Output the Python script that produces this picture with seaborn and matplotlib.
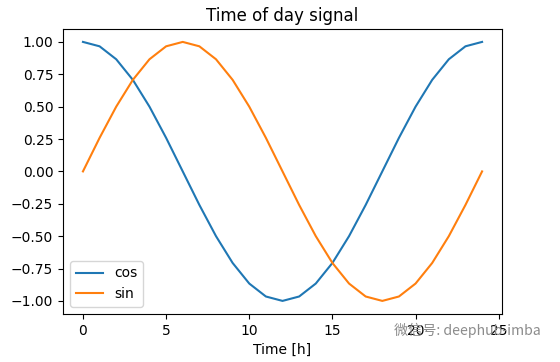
import matplotlib
matplotlib.use("Agg")
import matplotlib.pyplot as plt
import seaborn as sns
import pandas as pd

hours = list(range(25))
cos_vals = [1.000, 0.966, 0.866, 0.707, 0.500, 0.259, 0.000, -0.259, -0.500, -0.707,
            -0.866, -0.966, -1.000, -0.966, -0.866, -0.707, -0.500, -0.259, 0.000,
            0.259, 0.500, 0.707, 0.866, 0.966, 1.000]
sin_vals = [0.000, 0.259, 0.500, 0.707, 0.866, 0.966, 1.000, 0.966, 0.866, 0.707,
            0.500, 0.259, 0.000, -0.259, -0.500, -0.707, -0.866, -0.966, -1.000,
            -0.966, -0.866, -0.707, -0.500, -0.259, 0.000]
series_names = ["cos", "sin"]

df = pd.DataFrame({
    "Time [h]": hours * 2,
    "value": cos_vals + sin_vals,
    "series": [series_names[0]] * len(hours) + [series_names[1]] * len(hours),
})

fig = plt.figure(figsize=(5.6, 3.62), dpi=100)
ax = fig.add_axes([0.1125, 0.133, 0.784, 0.787])
sns.lineplot(data=df, x="Time [h]", y="value", hue="series",
             palette=["#1f77b4", "#ff7f0e"], ax=ax, linewidth=1.5)
ax.set_ylabel("")
ax.set_xlabel("Time [h]", fontsize=10)
ax.set_title("Time of day signal", fontsize=12)
ax.set_yticks([1.0, 0.75, 0.5, 0.25, 0.0, -0.25, -0.5, -0.75, -1.0])
ax.set_xticks([0, 5, 10, 15, 20, 25])
ax.tick_params(labelsize=10)
leg = ax.legend(loc="lower left", fontsize=10)
leg.set_title(None)

fig.text(0.703, 0.088, "微信号: deephub-imba", color="#8c8c8c", fontsize=10.2,
         family=["Noto Sans CJK SC", "DejaVu Sans"], va="center")

fig.savefig("out.png", dpi=100)
